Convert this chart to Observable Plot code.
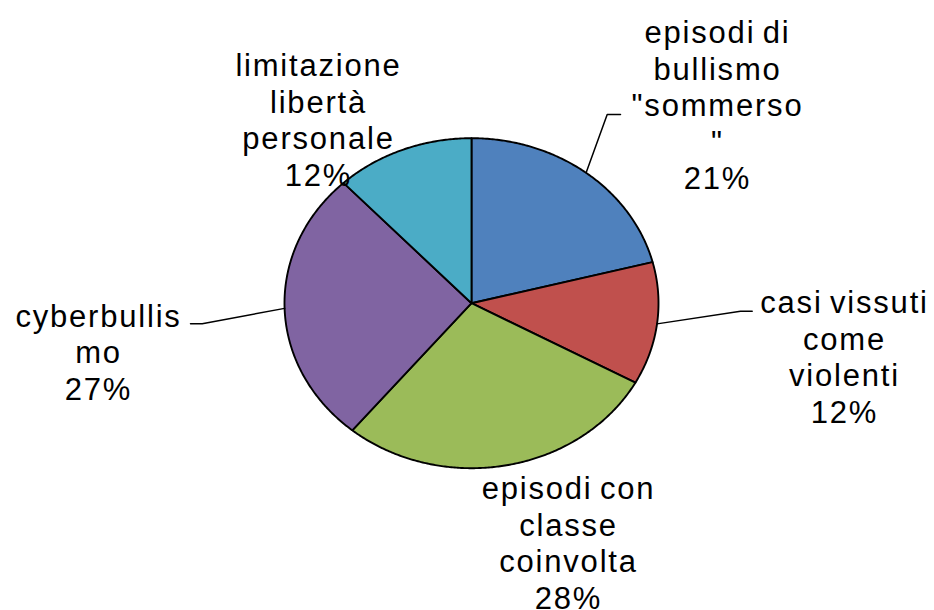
<!DOCTYPE html>
<html>
<head>
<meta charset="utf-8">
<script src="https://cdn.jsdelivr.net/npm/d3@7"></script>
<script src="https://cdn.jsdelivr.net/npm/@observablehq/plot@0.6"></script>
<style>
  html, body { margin: 0; padding: 0; background: #fff; }
  #chart svg text { letter-spacing: 1.8px; word-spacing: -3px; }
</style>
</head>
<body>
<div id="chart"></div>
<script>
// ---- data ----
const categories = [
  'episodi di bullismo "sommerso"',
  "casi vissuti come violenti",
  "episodi con classe coinvolta",
  "cyberbullismo",
  "limitazione libertà personale"
];
const values = [21, 12, 28, 27, 12];
// wrapped label lines as they appear in the chart
const labelLines = [
  ["episodi di", "bullismo", '"sommerso', '"'],
  ["casi vissuti", "come", "violenti"],
  ["episodi con", "classe", "coinvolta"],
  ["cyberbullis", "mo"],
  ["limitazione", "libertà", "personale"]
];
const colors = ["#4F81BD", "#C0504D", "#9BBB59", "#8064A2", "#4BACC6"];

// ---- layout ----
const W = 934, H = 610;
const cx = 471, cy = 302.7, rx = 187, ry = 165;
const labelPos = [[717, 104], [844, 356], [568, 542], [98, 351], [318, 119]];
const leaderBends = [
  [[606.7, 114], [620, 114]],
  [[740, 310.7], [751.7, 310.7]],
  null,
  [[201.7, 323.3], [190, 323.3]],
  null
];

const arcs = d3.pie().sort(null).value(d => d)(values);
const pt = a => ({x: cx + rx * Math.sin(a), y: cy - ry * Math.cos(a)});

const marks = [];
arcs.forEach((a, i) => {
  const pts = [{x: cx, y: cy}];
  const n = Math.max(2, Math.ceil((a.endAngle - a.startAngle) / (Math.PI / 360)));
  for (let k = 0; k <= n; k++) pts.push(pt(a.startAngle + (a.endAngle - a.startAngle) * k / n));
  pts.push({x: cx, y: cy});
  marks.push(Plot.line(pts, {
    x: "x", y: "y", fill: colors[i], stroke: "#000", strokeWidth: 1.9,
    strokeLinejoin: "round", curve: "linear"
  }));
});

arcs.forEach((a, i) => {
  if (!leaderBends[i]) return;
  const mid = (a.startAngle + a.endAngle) / 2;
  const pts = [pt(mid), ...leaderBends[i].map(([x, y]) => ({x, y}))];
  marks.push(Plot.line(pts, {x: "x", y: "y", stroke: "#000", strokeWidth: 1.5, curve: "linear"}));
});

const labels = values.map((v, i) => ({
  x: labelPos[i][0], y: labelPos[i][1],
  text: [...labelLines[i], `${v}%`].join("\n")
}));
marks.push(Plot.text(labels, {
  x: "x", y: "y", text: "text",
  fontSize: 31, lineHeight: 1.18, lineAnchor: "middle", textAnchor: "middle",
  fill: "#000", fontFamily: "'Liberation Sans', Arial, sans-serif"
}));

const chart = Plot.plot({
  width: W, height: H,
  marginTop: 0, marginRight: 0, marginBottom: 0, marginLeft: 0,
  x: {domain: [0, W], range: [0, W], axis: null},
  y: {domain: [0, H], range: [0, H], axis: null},
  style: {background: "#fff", overflow: "visible"},
  marks
});
document.getElementById("chart").appendChild(chart);
</script>
</body>
</html>
